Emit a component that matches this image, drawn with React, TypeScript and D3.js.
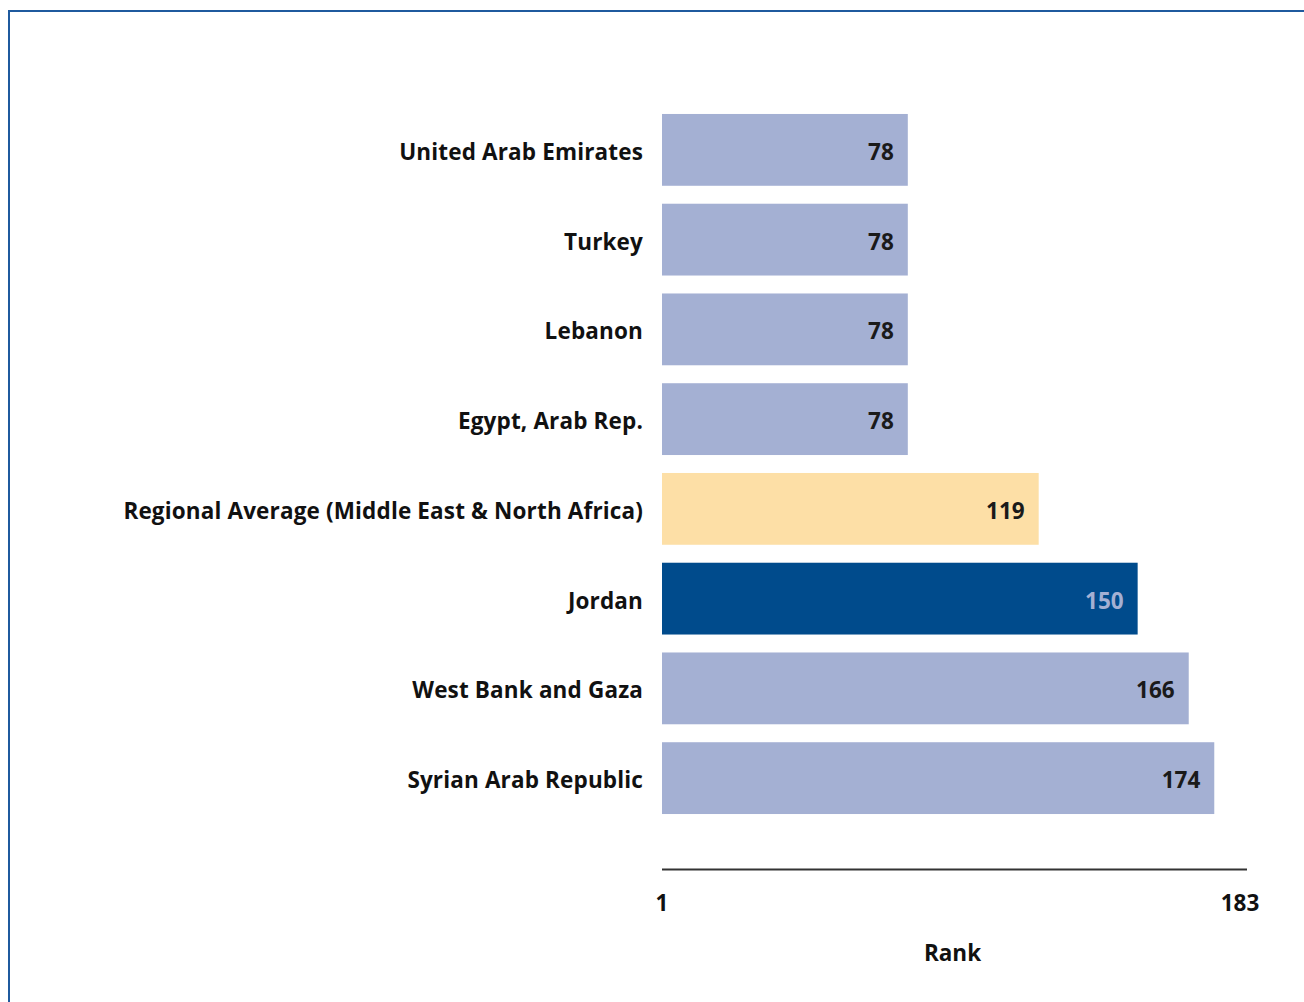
import React, { useEffect, useRef } from 'react';
import * as d3 from 'd3';

const countries = [
  'United Arab Emirates',
  'Turkey',
  'Lebanon',
  'Egypt, Arab Rep.',
  'Regional Average (Middle East & North Africa)',
  'Jordan',
  'West Bank and Gaza',
  'Syrian Arab Republic',
];
const ranks = [78, 78, 78, 78, 119, 150, 166, 174];
const highlight = ['base', 'base', 'base', 'base', 'region', 'focus', 'base', 'base'];
const tickLabels = [1, 183];

const fillFor: Record<string, string> = {
  base: '#a4b0d3',
  region: '#fddfa6',
  focus: '#004b8c',
};
const valueColor: Record<string, string> = {
  base: '#1a1a1a',
  region: '#1a1a1a',
  focus: '#a4b0d3',
};

export default function App() {
  const svgRef = useRef<SVGSVGElement>(null);

  useEffect(() => {
    if (!svgRef.current) return;
    const width = 1304;
    const height = 1002;
    const svg = d3.select(svgRef.current);
    svg.selectAll('*').remove();

    const font = '"Open Sans", Lato, sans-serif';

    // frame (top + left blue rule)
    svg.append('line')
      .attr('x1', 8).attr('x2', width).attr('y1', 11).attr('y2', 11)
      .attr('stroke', '#1f5a9e').attr('stroke-width', 2);
    svg.append('line')
      .attr('x1', 9).attr('x2', 9).attr('y1', 10).attr('y2', height)
      .attr('stroke', '#1f5a9e').attr('stroke-width', 2);

    const x = d3.scaleLinear().domain([1, 183]).range([662, 1243]);
    const y = d3.scaleBand<string>()
      .domain(countries)
      .range([105, 823])
      .paddingInner(0.2)
      .paddingOuter(0.1);

    const rows = countries.map((c, i) => ({ name: c, rank: ranks[i], kind: highlight[i] }));

    const g = svg.append('g').style('font-family', font).style('font-weight', 700);

    g.selectAll('rect.bar')
      .data(rows)
      .enter()
      .append('rect')
      .attr('class', 'bar')
      .attr('x', x(1))
      .attr('y', (d) => y(d.name)!)
      .attr('width', (d) => x(d.rank) - x(1))
      .attr('height', y.bandwidth())
      .attr('fill', (d) => fillFor[d.kind]);

    // category labels
    g.selectAll('text.cat')
      .data(rows)
      .enter()
      .append('text')
      .attr('class', 'cat')
      .attr('x', x(1) - 19)
      .attr('y', (d) => y(d.name)! + y.bandwidth() / 2 + 2)
      .attr('dy', '0.35em')
      .attr('text-anchor', 'end')
      .attr('font-size', 22.5)
      .attr('letter-spacing', 0.15)
      .attr('fill', '#111')
      .text((d) => d.name);

    // value labels inside bars
    g.selectAll('text.val')
      .data(rows)
      .enter()
      .append('text')
      .attr('class', 'val')
      .attr('x', (d) => x(d.rank) - 14)
      .attr('y', (d) => y(d.name)! + y.bandwidth() / 2 + 2)
      .attr('dy', '0.35em')
      .attr('text-anchor', 'end')
      .attr('font-size', 22.5)
      .attr('fill', (d) => valueColor[d.kind])
      .text((d) => d.rank);

    // axis
    g.append('line')
      .attr('x1', x(1)).attr('x2', 1247)
      .attr('y1', 869.5).attr('y2', 869.5)
      .attr('stroke', '#333').attr('stroke-width', 2);

    g.selectAll('text.tick')
      .data(tickLabels)
      .enter()
      .append('text')
      .attr('class', 'tick')
      .attr('x', (d, i) => (i === 0 ? x(d) : x(d) - 3))
      .attr('y', 903)
      .attr('dy', '0.35em')
      .attr('text-anchor', 'middle')
      .attr('font-size', 22.5)
      .attr('fill', '#111')
      .text((d) => d);

    g.append('text')
      .attr('x', (x(1) + 1243) / 2)
      .attr('y', 953)
      .attr('dy', '0.35em')
      .attr('text-anchor', 'middle')
      .attr('font-size', 22.5)
      .attr('fill', '#111')
      .text('Rank');
  }, []);

  return (
    <svg
      ref={svgRef}
      width={1304}
      height={1002}
      style={{ position: 'absolute', left: 0, top: 0, background: '#fff' }}
    />
  );
}
